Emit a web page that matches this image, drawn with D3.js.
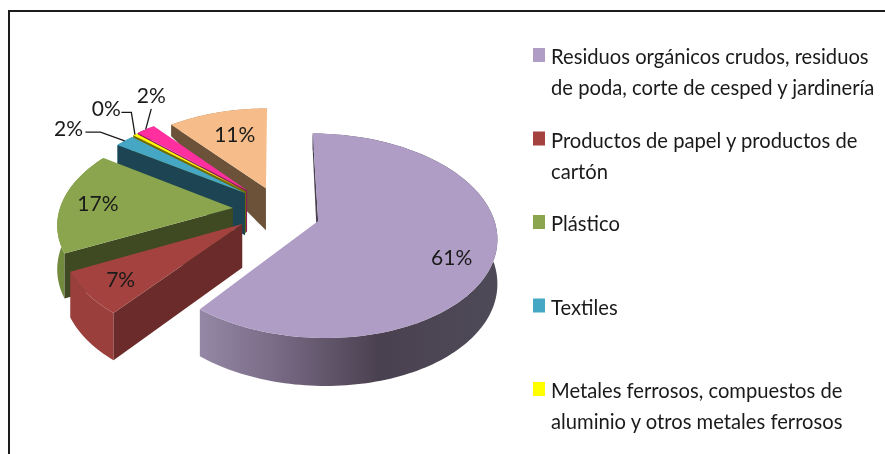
<!DOCTYPE html>
<html>
<head>
<meta charset="utf-8">
<script src="https://cdn.jsdelivr.net/npm/d3@7"></script>
<style>
  html, body { margin: 0; padding: 0; background: #fff; }
  svg { display: block; filter: blur(0.4px); }
  text { font-family: Lato, sans-serif; fill: #1a1a1a; }
</style>
</head>
<body>
<div id="chart"></div>
<script>
// share of each waste type (yellow is a sliver that rounds to 0%)
var sliceKeys = ["organicos", "papel", "plastico", "textiles", "metales", "rosa", "naranja"];
var sliceValues = [60.7, 7, 16.8, 2.1, 0.45, 2.1, 10.85];

var legendLines = [
  ["Residuos orgánicos crudos, residuos", "de poda, corte de cesped y jardinería"],
  ["Productos de papel y productos de", "cartón"],
  ["Plástico"],
  ["Textiles"],
  ["Metales ferrosos, compuestos de", "aluminio y otros metales ferrosos"]
];

var topColors = ["#af9dc5", "#a3423f", "#8aa54d", "#46a7c4", "#ffff00", "#ff2f9f", "#f6bd8b"];
var wallColors = ["#4a4150", "#6b2b2a", "#3f4a22", "#1d4452", "#6e6e00", "#8a1a5a", "#6c5239"];
var sideColors = ["url(#purpleSide)", "#9b3f3d", "#728a3e", "#2f7f98", "#a0a000", "#b0206f", "#a8805c"];

// how far each slice is pulled out, in units of the radius on the pie's plane
var explodeX = [0.245, -0.185, -0.243, -0.177, -0.172, -0.166, -0.054];
var explodeY = [0.09, 0.12, -0.041, -0.2, -0.22, -0.231, -0.252];

// label placement: radius along the slice's middle, then a pixel nudge
var labelRadius = [0.73, 0.62, 0.72, 1.25, 1.32, 1.25, 0.72];
var labelDx = [6, -29, -12, -29, 3, 28, 5];
var labelDy = [11, 13, -1, -2, -11, -21, 2];

// leader lines of the three thin slices: start relative to the label, flat stub length
var leaderDx = [17, 15, 0];
var leaderDy = [5, 5, 14];
var leaderStub = [15, 10, 0];
var leaderSlices = [3, 4, 5];

var w = 885, h = 454;
var cx = 275, cy = 212, R = 174, Rk = 97.5, persp = 0.1436;

// wall height shrinks quickly toward the back of the pie
var depth = d3.scaleLinear().domain([-1.02, -0.25, 0.16, 1.1]).range([12, 42, 44, 48]);

function project(X, Y) {
  var s = 1 / (1 - persp * Y);
  return [cx + R * X * s, cy + Rk * Y * s];
}

var svg = d3.select("#chart").append("svg").attr("width", w).attr("height", h);

var defs = svg.append("defs");
var grad = defs.append("linearGradient").attr("id", "purpleSide");
grad.append("stop").attr("offset", "0").attr("stop-color", "#9488a6");
grad.append("stop").attr("offset", "0.25").attr("stop-color", "#7a6b86");
grad.append("stop").attr("offset", "0.6").attr("stop-color", "#4a4150");
grad.append("stop").attr("offset", "1").attr("stop-color", "#4e4a58");

var pie = d3.pie().sort(null).value(function(d) { return d; });
var slices = pie(sliceValues);
var line = d3.line();

// rim of one slice, sampled along its arc, on the pie's plane
function arcPoints(i) {
  var d = slices[i];
  var n = Math.max(2, Math.ceil((d.endAngle - d.startAngle) * 40));
  return d3.range(n + 1).map(function(k) {
    var a = d.startAngle + (d.endAngle - d.startAngle) * k / n;
    return [explodeX[i] + Math.sin(a), explodeY[i] - Math.cos(a)];
  });
}
function topOf(p) { return project(p[0], p[1]); }
function bottomOf(p) {
  var q = project(p[0], p[1]);
  return [q[0], q[1] + depth(p[1])];
}

// frame
svg.append("line").attr("x1", 9).attr("x2", w).attr("y1", 11).attr("y2", 11)
    .attr("stroke", "#1c1c1c").attr("stroke-width", 2);
svg.append("line").attr("x1", 9).attr("x2", 9).attr("y1", 10).attr("y2", h)
    .attr("stroke", "#1c1c1c").attr("stroke-width", 2);

// painter's order: back of the pie first, the big slice last
var order = [6, 5, 4, 3, 2, 1, 0];
var pieG = svg.append("g");

order.forEach(function(i) {
  var rim = arcPoints(i);
  var apex = [explodeX[i], explodeY[i]];
  var first = rim[0];
  var g = pieG.append("g").attr("class", sliceKeys[i]);

  // outer wall
  g.append("path")
      .attr("d", line(rim.map(topOf).concat(rim.slice().reverse().map(bottomOf))) + "Z")
      .attr("fill", sideColors[i]);

  // radial wall at the start of the slice, the only one that faces the viewer
  g.append("path")
      .attr("d", line([topOf(apex), topOf(first), bottomOf(first), bottomOf(apex)]) + "Z")
      .attr("fill", wallColors[i]);

  // top face
  g.append("path")
      .attr("d", line([topOf(apex)].concat(rim.map(topOf))) + "Z")
      .attr("fill", topColors[i]);
});

// percent labels
function labelPos(i) {
  var d = slices[i];
  var mid = (d.startAngle + d.endAngle) / 2;
  var r = labelRadius[i];
  var pos = project(explodeX[i] + r * Math.sin(mid), explodeY[i] - r * Math.cos(mid));
  return [pos[0] + labelDx[i], pos[1] + labelDy[i]];
}

slices.forEach(function(d, i) {
  var pos = labelPos(i);
  svg.append("text")
      .attr("x", pos[0])
      .attr("y", pos[1])
      .attr("text-anchor", "middle")
      .attr("dominant-baseline", "central")
      .attr("font-size", 21)
      .text(d3.format(".0f")(d.value) + "%");
});

// leaders from the outside labels to the rim of their slice
leaderSlices.forEach(function(i, k) {
  var d = slices[i];
  var mid = (d.startAngle + d.endAngle) / 2;
  var pos = labelPos(i);
  var start = [pos[0] + leaderDx[k], pos[1] + leaderDy[k]];
  var stub = [start[0] + leaderStub[k], start[1]];
  var end = project(explodeX[i] + Math.sin(mid), explodeY[i] - Math.cos(mid));
  svg.append("path")
      .attr("d", line([start, stub, end]))
      .attr("fill", "none")
      .attr("stroke", "#1a1a1a")
      .attr("stroke-width", 1.3);
});

// legend
var legendRow = d3.scalePoint().domain(d3.range(legendLines.length)).range([64, 398]);
var legend = svg.append("g");
legendLines.forEach(function(lines, i) {
  var y = legendRow(i);
  legend.append("rect")
      .attr("x", 533).attr("y", y - 16)
      .attr("width", 12).attr("height", 14)
      .attr("fill", topColors[i]);
  lines.forEach(function(t, j) {
    legend.append("text")
        .attr("x", 551)
        .attr("y", y + j * 31)
        .attr("font-size", 20.2)
        .text(t);
  });
});
</script>
</body>
</html>
